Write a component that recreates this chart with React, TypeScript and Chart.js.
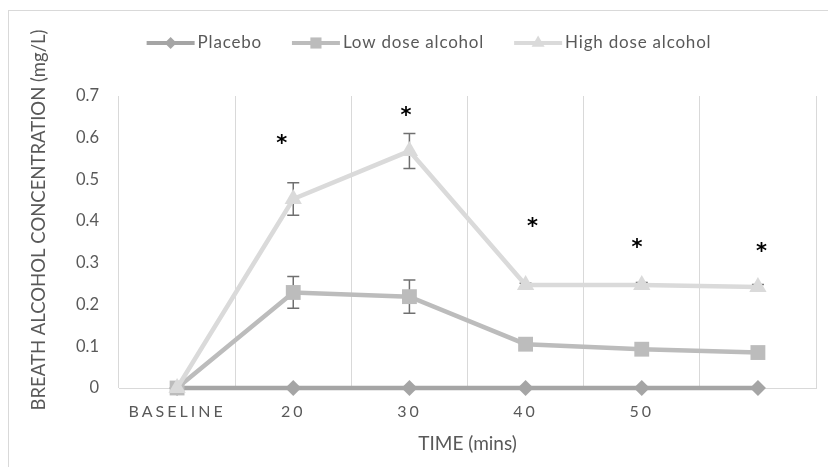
import React, { useEffect, useRef } from "react";
import { Chart, registerables } from "chart.js";

Chart.register(...registerables);

// ---- data ----
const categories = ["BASELINE", "20", "30", "40", "50", ""];
const placebo = [0, 0, 0, 0, 0, 0];
const lowDose = [0, 0.229, 0.219, 0.105, 0.093, 0.085];
const lowDoseErr = [0, 0.038, 0.04, 0, 0, 0];
const highDose = [0, 0.453, 0.568, 0.247, 0.247, 0.242];
const highDoseErr = [0, 0.039, 0.042, 0.004, 0.006, 0.006];
const asteriskY = [null, 0.6, 0.667, 0.4, 0.35, 0.34];
const asteriskShift = [0, -0.1, -0.03, 0.06, -0.04, 0.03];
const seriesNames = ["Placebo", "Low dose alcohol", "High dose alcohol"];
const yTitle = "BREATH ALCOHOL CONCENTRATION (mg/L)";
const xTitle = "TIME (mins)";

const FONT = "Lato";
const TEXT = "#595959";
const COLORS = ["#a5a5a5", "#bcbcbc", "#dadada"];
const STYLES = ["rectRot", "rect", "triangle"];
const RADII = [8, 10.5, 10];

function drawMarker(ctx: CanvasRenderingContext2D, style: string, x: number, y: number, r: number, color: string) {
  ctx.save();
  ctx.fillStyle = color;
  ctx.beginPath();
  if (style === "rectRot") {
    ctx.moveTo(x, y - r);
    ctx.lineTo(x + r, y);
    ctx.lineTo(x, y + r);
    ctx.lineTo(x - r, y);
  } else if (style === "rect") {
    const s = r * Math.SQRT1_2;
    ctx.rect(x - s, y - s, 2 * s, 2 * s);
  } else {
    ctx.moveTo(x, y - r);
    ctx.lineTo(x + r * Math.sin((2 * Math.PI) / 3), y + r / 2);
    ctx.lineTo(x - r * Math.sin((2 * Math.PI) / 3), y + r / 2);
  }
  ctx.closePath();
  ctx.fill();
  ctx.restore();
}

const overlayPlugin = {
  id: "overlay",
  beforeDatasetsDraw(chart: any) {
    const ctx = chart.ctx as CanvasRenderingContext2D;
    const xs = chart.scales.x;
    const ys = chart.scales.y;
    const sets = [
      { v: lowDose, e: lowDoseErr },
      { v: highDose, e: highDoseErr },
    ];
    ctx.save();
    ctx.strokeStyle = "#707070";
    ctx.lineWidth = 1.5;
    sets.forEach(({ v, e }) => {
      v.forEach((val, i) => {
        if (!e[i]) return;
        const x = xs.getPixelForValue(i);
        const yt = ys.getPixelForValue(val + e[i]);
        const yb = ys.getPixelForValue(val - e[i]);
        ctx.beginPath();
        ctx.moveTo(x, yt);
        ctx.lineTo(x, yb);
        ctx.moveTo(x - 6, yt);
        ctx.lineTo(x + 6, yt);
        ctx.moveTo(x - 6, yb);
        ctx.lineTo(x + 6, yb);
        ctx.stroke();
      });
    });
    ctx.restore();
  },
  afterDatasetsDraw(chart: any) {
    const ctx = chart.ctx as any;
    const xs = chart.scales.x;
    const ys = chart.scales.y;
    const step = xs.getPixelForValue(1) - xs.getPixelForValue(0);
    ctx.save();
    ctx.fillStyle = "#000";
    ctx.font = `bold 21px 'DejaVu Sans'`;
    ctx.textAlign = "center";
    ctx.textBaseline = "alphabetic";
    asteriskY.forEach((v, i) => {
      if (v == null) return;
      const x = xs.getPixelForValue(i) + asteriskShift[i] * step;
      const y = ys.getPixelForValue(v);
      ctx.fillText("*", x, y + 12);
    });
    ctx.restore();
    // x tick labels are drawn after this (ticks.z = 1) with letter spacing
    ctx.letterSpacing = "3px";
  },
  afterDraw(chart: any) {
    const ctx = chart.ctx as any;
    ctx.letterSpacing = "0px";
    // y-axis title
    ctx.save();
    ctx.fillStyle = TEXT;
    ctx.font = `18.5px ${FONT}`;
    ctx.textAlign = "center";
    ctx.textBaseline = "middle";
    ctx.translate(39, 220);
    ctx.rotate(-Math.PI / 2);
    ctx.fillText(yTitle, 0, 0);
    ctx.restore();
    // legend
    ctx.save();
    ctx.font = `17px ${FONT}`;
    ctx.letterSpacing = "0.8px";
    ctx.textBaseline = "middle";
    ctx.textAlign = "left";
    const lineLen = 48;
    const gapText = 3;
    const gapItem = 30;
    const widths = seriesNames.map((n) => ctx.measureText(n).width);
    const total =
      widths.reduce((a: number, b: number) => a + b, 0) +
      seriesNames.length * (lineLen + gapText) +
      (seriesNames.length - 1) * gapItem;
    let x = 429 - total / 2;
    const y = 43;
    seriesNames.forEach((name, i) => {
      ctx.strokeStyle = COLORS[i];
      ctx.lineWidth = 4;
      ctx.beginPath();
      ctx.moveTo(x, y);
      ctx.lineTo(x + lineLen, y);
      ctx.stroke();
      drawMarker(ctx, STYLES[i], x + lineLen / 2, y, RADII[i] * 0.75, COLORS[i]);
      ctx.fillStyle = TEXT;
      ctx.fillText(name, x + lineLen + gapText, y);
      x += lineLen + gapText + widths[i] + gapItem;
    });
    ctx.letterSpacing = "0px";
    ctx.restore();
  },
};

export default function App() {
  const ref = useRef<HTMLCanvasElement | null>(null);
  useEffect(() => {
    if (!ref.current) return;
    const mk = (label: string, data: number[], i: number) => ({
      label,
      data,
      borderColor: COLORS[i],
      backgroundColor: COLORS[i],
      pointBackgroundColor: COLORS[i],
      pointBorderColor: COLORS[i],
      pointStyle: STYLES[i],
      pointRadius: RADII[i],
      pointBorderWidth: 0,
      borderWidth: 4.5,
      tension: 0,
      clip: false,
      order: 3 - i,
    });
    const chart = new Chart(ref.current, {
      type: "line",
      data: {
        labels: categories,
        datasets: [
          mk(seriesNames[0], placebo, 0),
          mk(seriesNames[1], lowDose, 1),
          mk(seriesNames[2], highDose, 2),
        ],
      },
      options: {
        responsive: false,
        devicePixelRatio: 1,
        animation: false,
        layout: { padding: { left: 0, right: 12, top: 96, bottom: 0 } },
        plugins: { legend: { display: false }, tooltip: { enabled: false } },
        scales: {
          x: {
            offset: true,
            grid: { offset: true, color: "#d9d9d9", lineWidth: 1, drawTicks: false },
            border: { color: "#d9d9d9", width: 1 },
            ticks: { color: TEXT, font: { family: FONT, size: 16 }, padding: 14, z: 1, maxRotation: 0, autoSkip: false },
            title: { display: true, text: xTitle, color: TEXT, font: { family: FONT, size: 19 }, padding: { top: 0, bottom: 12 } },
            afterFit: (s: any) => {
              s.height = 79;
            },
          },
          y: {
            min: 0,
            max: 0.7,
            grid: { display: false, drawTicks: false },
            border: { display: false },
            ticks: {
              stepSize: 0.1,
              color: TEXT,
              font: { family: FONT, size: 16.5 },
              padding: 20,
              callback: (v: any) => (Number(v) === 0 ? "0" : Number(v).toFixed(1)),
            },
            afterFit: (s: any) => {
              s.width = 119;
            },
          },
        },
      },
      plugins: [overlayPlugin],
    } as any);
    return () => chart.destroy();
  }, []);
  return (
    <div style={{ position: "absolute", left: 0, top: 0, width: 828, height: 467, background: "#fff", overflow: "hidden" }}>
      <div style={{ position: "absolute", left: 8, top: 10, width: 850, height: 500, border: "1px solid #d9d9d9" }} />
      <canvas ref={ref} width={828} height={467} style={{ position: "absolute", left: 0, top: 0 }} />
    </div>
  );
}
